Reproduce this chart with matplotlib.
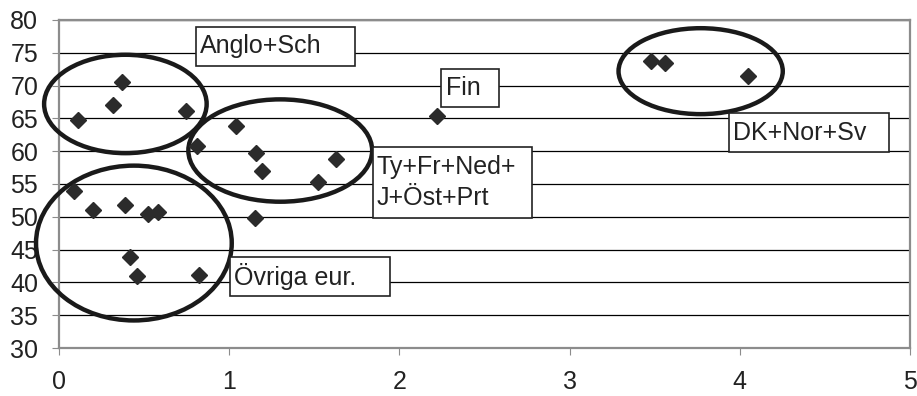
import matplotlib
matplotlib.use('Agg')
import matplotlib.pyplot as plt
from matplotlib.patches import Ellipse, Rectangle

plt.rcParams['font.family'] = ['Liberation Sans', 'DejaVu Sans']

# scatter data
x_vals = [0.11, 0.32, 0.37, 0.745, 0.81, 1.04, 1.16, 1.19, 1.63, 1.52, 2.22,
          0.086, 0.20, 0.39, 0.52, 0.58, 1.15, 0.42, 0.46, 0.825,
          3.48, 3.56, 4.05]
y_vals = [64.8, 67.0, 70.6, 66.1, 60.8, 63.9, 59.8, 57.0, 58.8, 55.3, 65.4,
          53.9, 51.0, 51.8, 50.5, 50.7, 49.8, 43.8, 41.0, 41.1,
          73.75, 73.4, 71.4]

# group ellipses: centre x, centre y, width, height
ellipse_centers = [(0.39, 67.2), (1.30, 60.1), (0.44, 46.0), (3.77, 72.2)]
ellipse_sizes = [(0.955, 15.0), (1.08, 15.6), (1.15, 23.6), (0.965, 13.1)]

# label boxes: text, x0, x1, y_bottom, y_top
label_texts = ['Anglo+Sch', 'Fin', 'DK+Nor+Sv', 'Ty+Fr+Ned+\nJ+Öst+Prt', 'Övriga eur.']
label_boxes = [(0.804, 1.741, 73.0, 78.98),
               (2.247, 2.588, 66.69, 72.48),
               (3.934, 4.875, 59.83, 65.78),
               (1.843, 2.781, 49.77, 60.69),
               (1.006, 1.947, 37.93, 43.92)]

xticks = [0, 1, 2, 3, 4, 5]
yticks = [30, 35, 40, 45, 50, 55, 60, 65, 70, 75, 80]

fig = plt.figure(figsize=(9.17, 3.96), dpi=100)
ax = fig.add_axes([59 / 917, 48 / 396, 851 / 917, 328 / 396])

ax.set_xlim(0, 5)
ax.set_ylim(30, 80)
ax.set_xticks(xticks)
ax.set_yticks(yticks)
ax.grid(axis='y', color='black', linewidth=0.9, zorder=1)
ax.set_axisbelow(True)

for s in ax.spines.values():
    s.set_color('#8c8c8c')
    s.set_linewidth(1.6)

ax.tick_params(axis='both', colors='#8c8c8c', length=5, width=0.8,
               labelsize=18, labelcolor='#222222')
ax.tick_params(axis='y', pad=10)
ax.tick_params(axis='x', pad=11)

ax.plot(x_vals, y_vals, linestyle='none', marker='D', markersize=8,
        color='#2b2b2b', zorder=4)

for (cx, cy), (w, h) in zip(ellipse_centers, ellipse_sizes):
    ax.add_patch(Ellipse((cx, cy), w, h, fill=False, edgecolor='#1a1a1a',
                         linewidth=3.2, zorder=3, clip_on=False))

for txt, (x0, x1, y0, y1) in zip(label_texts, label_boxes):
    ax.add_patch(Rectangle((x0, y0), x1 - x0, y1 - y0, facecolor='white',
                           edgecolor='#222222', linewidth=1.2, zorder=5))
    ax.text(x0 + 0.025, (y0 + y1) / 2, txt, fontsize=18, color='#222222',
            ha='left', va='center', linespacing=1.35, zorder=6)

fig.savefig('out.png', dpi=100)
